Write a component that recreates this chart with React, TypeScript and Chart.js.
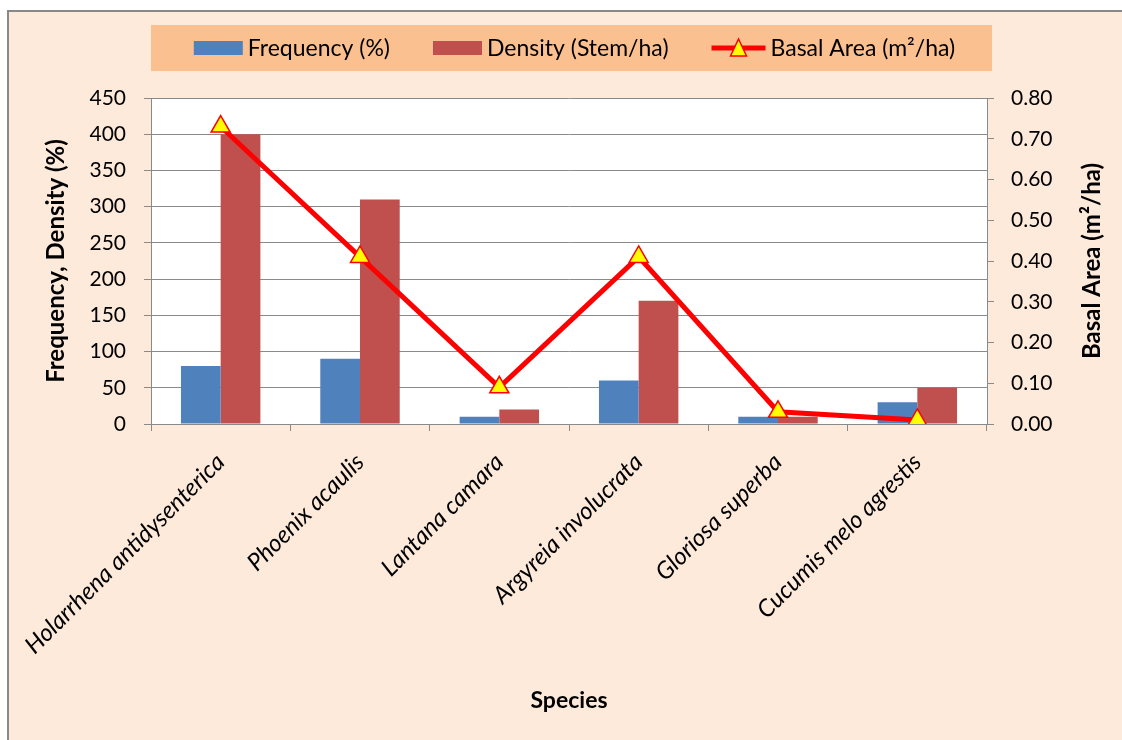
import React, { useEffect, useRef } from 'react';
import { Chart, registerables } from 'chart.js';

Chart.register(...registerables);

const categories = [
  'Holarrhena antidysenterica',
  'Phoenix acaulis',
  'Lantana camara',
  'Argyreia involucrata',
  'Gloriosa superba',
  'Cucumis melo agrestis',
];
const frequency = [80, 90, 10, 60, 10, 30];
const density = [400, 310, 20, 170, 10, 50];
const basalArea = [0.73, 0.41, 0.09, 0.41, 0.03, 0.01];

const seriesLabels = ['Frequency (%)', 'Density (Stem/ha)', 'Basal Area (m\u00B2/ha)'];
const leftTitle = 'Frequency, Density (%)';
const rightTitle = 'Basal Area (m\u00B2/ha)';
const bottomTitle = 'Species';

const leftMax = 450;
const leftStep = 50;
const rightMax = 0.8;
const rightStep = 0.1;

const FONT = 'Lato';
const GRID = '#8a8a8a';
const TITLE_SIZE = 24;
const TEXT_SIZE = 23;

const bgPlugin = {
  id: 'bgPlugin',
  beforeDraw(chart: any) {
    const { ctx, chartArea } = chart;
    ctx.save();
    ctx.fillStyle = '#FDEADA';
    ctx.fillRect(0, 0, chart.width, chart.height);
    ctx.fillStyle = '#FFFFFF';
    ctx.fillRect(chartArea.left, chartArea.top, chartArea.right - chartArea.left, chartArea.bottom - chartArea.top);
    ctx.restore();
  },
};

const extrasPlugin = {
  id: 'extrasPlugin',
  afterDraw(chart: any) {
    const { ctx, chartArea } = chart;
    ctx.save();
    // legend box
    const boxL = chartArea.left;
    const boxR = chartArea.right + 5;
    const top = 13;
    const bottom = 59;
    ctx.fillStyle = '#FAC090';
    ctx.fillRect(boxL, top, boxR - boxL, bottom - top);
    ctx.font = `${TEXT_SIZE}px ${FONT}`;
    ctx.textBaseline = 'middle';
    ctx.textAlign = 'left';
    const cy = (top + bottom) / 2;
    const ds = chart.data.datasets;
    const swW = [49, 49, 54];
    const gapT = 5;
    const gapI = 43;
    const widths = ds.map((d: any) => ctx.measureText(d.label).width);
    let total = 0;
    ds.forEach((d: any, i: number) => {
      total += swW[i] + gapT + widths[i];
      if (i < ds.length - 1) total += gapI;
    });
    let x = (boxL + boxR) / 2 - total / 2 + 3;
    ds.forEach((d: any, i: number) => {
      if (d.type === 'line') {
        ctx.strokeStyle = '#FF0000';
        ctx.lineWidth = 5;
        ctx.beginPath();
        ctx.moveTo(x, cy);
        ctx.lineTo(x + swW[i], cy);
        ctx.stroke();
        const tx = x + swW[i] / 2;
        ctx.beginPath();
        ctx.moveTo(tx, cy - 9);
        ctx.lineTo(tx + 8, cy + 8);
        ctx.lineTo(tx - 8, cy + 8);
        ctx.closePath();
        ctx.fillStyle = '#FFFF00';
        ctx.fill();
        ctx.lineWidth = 1.5;
        ctx.strokeStyle = '#FF0000';
        ctx.stroke();
      } else {
        ctx.fillStyle = d.backgroundColor;
        ctx.fillRect(x, cy - 7, swW[i], 14);
      }
      ctx.fillStyle = '#000';
      ctx.fillText(d.label, x + swW[i] + gapT, cy + 1);
      x += swW[i] + gapT + widths[i] + gapI;
    });
    // right axis title (reads bottom to top)
    ctx.font = `bold ${TITLE_SIZE}px ${FONT}`;
    ctx.fillStyle = '#000';
    ctx.textAlign = 'center';
    ctx.textBaseline = 'middle';
    ctx.translate(chartArea.right + 105, (chartArea.top + chartArea.bottom) / 2);
    ctx.rotate(-Math.PI / 2);
    ctx.fillText(rightTitle, 0, 0);
    ctx.restore();
  },
};

export default function App() {
  const ref = useRef<HTMLCanvasElement>(null);

  useEffect(() => {
    document.documentElement.style.overflow = 'hidden';
    document.body.style.overflow = 'hidden';
    let chart: Chart | null = null;
    let cancelled = false;
    const make = () => {
      if (cancelled || !ref.current) return;
      chart = new Chart(ref.current, {
        type: 'bar',
        data: {
          labels: categories,
          datasets: [
            {
              type: 'bar',
              label: seriesLabels[0],
              data: frequency,
              yAxisID: 'y',
              backgroundColor: '#4F81BD',
              categoryPercentage: 0.57,
              barPercentage: 1,
              order: 1,
            },
            {
              type: 'bar',
              label: seriesLabels[1],
              data: density,
              yAxisID: 'y',
              backgroundColor: '#C0504D',
              categoryPercentage: 0.57,
              barPercentage: 1,
              order: 2,
            },
            {
              type: 'line',
              label: seriesLabels[2],
              data: basalArea,
              yAxisID: 'y1',
              borderColor: '#FF0000',
              borderWidth: 5,
              pointStyle: 'triangle',
              pointRadius: 11,
              pointHoverRadius: 11,
              pointBackgroundColor: '#FFFF00',
              pointBorderColor: '#FF0000',
              pointBorderWidth: 1.5,
              tension: 0,
              order: 0,
            } as any,
          ],
        },
        options: {
          responsive: false,
          animation: false,
          layout: { padding: { top: 86, left: 0, right: 0, bottom: 0 } },
          plugins: {
            legend: { display: false },
            tooltip: { enabled: false },
          },
          scales: {
            x: {
              type: 'category',
              offset: true,
              grid: {
                display: true,
                offset: true,
                drawOnChartArea: false,
                drawTicks: true,
                tickLength: 7,
                color: GRID,
                lineWidth: 1,
              },
              border: { display: true, color: GRID, width: 1 },
              ticks: {
                autoSkip: false,
                maxRotation: 45,
                minRotation: 45,
                padding: 17,
                color: '#000',
                font: { family: FONT, size: 24, style: 'italic' },
              },
              title: {
                display: true,
                text: bottomTitle,
                color: '#000',
                font: { family: FONT, size: 23, weight: 'bold' },
                padding: { top: 0, bottom: 28 },
              },
              afterFit(scale: any) {
                scale.height = 318;
                scale.paddingLeft = 0;
                scale.paddingRight = 0;
              },
            },
            y: {
              type: 'linear',
              position: 'left',
              min: 0,
              max: leftMax,
              grid: {
                color: GRID,
                lineWidth: 1,
                tickLength: 7,
                drawTicks: true,
              },
              border: { display: true, color: GRID, width: 1 },
              ticks: {
                stepSize: leftStep,
                padding: 18,
                color: '#000',
                font: { family: FONT, size: 21 },
              },
              title: {
                display: true,
                text: leftTitle,
                color: '#000',
                font: { family: FONT, size: TITLE_SIZE, weight: 'bold' },
                padding: { top: 33, bottom: 0 },
              },
              afterFit(scale: any) {
                scale.width = 142;
              },
            },
            y1: {
              type: 'linear',
              position: 'right',
              min: 0,
              max: rightMax,
              grid: {
                drawOnChartArea: false,
                color: GRID,
                lineWidth: 1,
                tickLength: 7,
                drawTicks: true,
              },
              border: { display: true, color: GRID, width: 1 },
              ticks: {
                stepSize: rightStep,
                padding: 17,
                color: '#000',
                font: { family: FONT, size: 21 },
                callback: (v: any) => Number(v).toFixed(2),
              },
              title: { display: false },
              afterFit(scale: any) {
                scale.width = 135;
              },
            },
          },
        },
        plugins: [bgPlugin, extrasPlugin],
      });
    };
    const fonts = [`21px ${FONT}`, `bold 24px ${FONT}`, `italic 24px ${FONT}`];
    Promise.all(fonts.map((f) => document.fonts.load(f))).then(make, make);
    return () => {
      cancelled = true;
      if (chart) chart.destroy();
    };
  }, []);

  return (
    <div
      style={{
        position: 'fixed',
        left: 7,
        top: 10,
        width: 1113,
        height: 740,
        borderTop: '2px solid #898989',
        borderLeft: '2px solid #898989',
        background: '#FDEADA',
        overflow: 'hidden',
      }}
    >
      <canvas ref={ref} width={1113} height={730} style={{ display: 'block', width: 1113, height: 730 }} />
    </div>
  );
}
